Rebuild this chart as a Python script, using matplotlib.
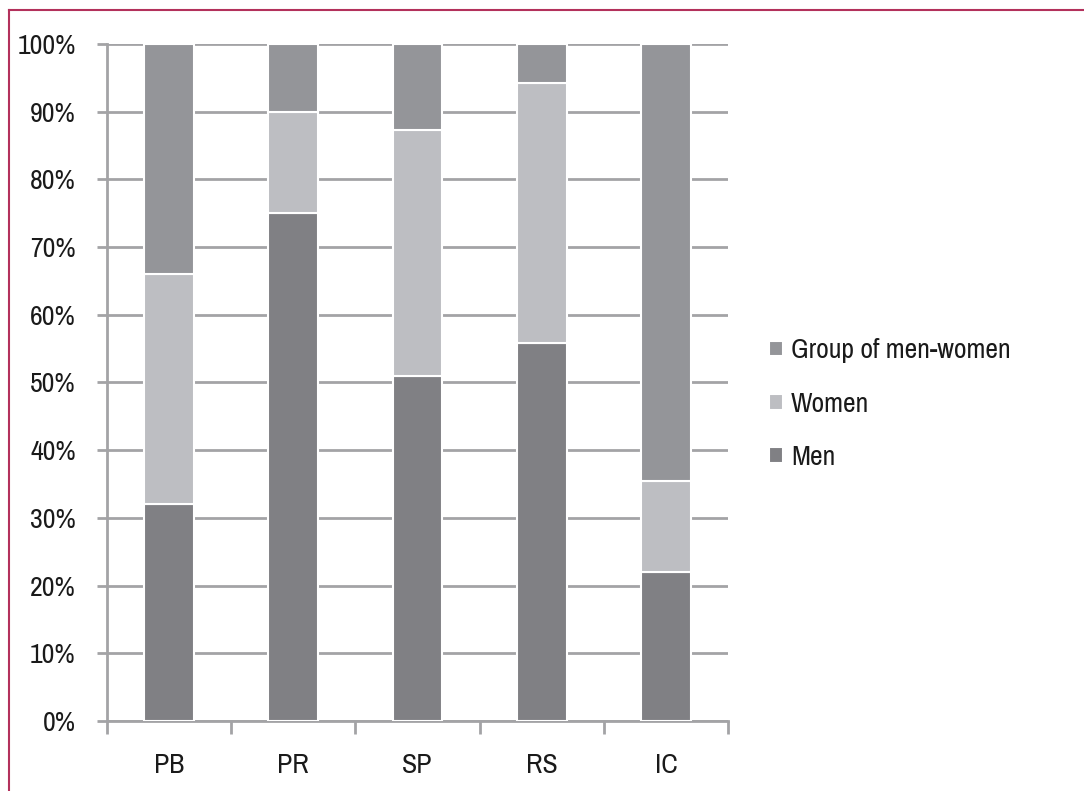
import matplotlib
matplotlib.use("Agg")
import matplotlib.pyplot as plt
from matplotlib import font_manager
from matplotlib.lines import Line2D
import numpy as np

categories = ["PB", "PR", "SP", "RS", "IC"]
men = [32.0, 75.0, 51.0, 55.8, 22.0]
women = [34.0, 15.0, 36.3, 38.4, 13.5]
group = [34.0, 10.0, 12.7, 5.8, 64.5]
yticks = [0, 10, 20, 30, 40, 50, 60, 70, 80, 90, 100]

# pick a narrow/condensed font if any is installed
fp = None
cands = []
for f in font_manager.fontManager.ttflist:
    if f.style != "normal" or f.weight not in (400, "normal", "regular"):
        continue
    low = f.fname.lower()
    if "narrow" in low or "narrow" in f.name.lower():
        cands.append((0, f.fname))
    elif ("condensed" in low or f.stretch == "condensed") and "bold" not in low and "oblique" not in low:
        if "sans" in low and "mono" not in low:
            cands.append((1, f.fname))
cands.sort()
if cands:
    fp = font_manager.FontProperties(fname=cands[0][1])
else:
    fp = font_manager.FontProperties(family="Liberation Sans")
is_narrow = bool(cands) and cands[0][0] == 0
fs = 20 if is_narrow else 18

def F(size):
    p = fp.copy()
    p.set_size(size)
    return p

c_men = "#808084"
c_women = "#bdbec2"
c_group = "#949599"
grid_c = "#a3a3a6"
txt_c = "#1a1a1a"

fig = plt.figure(figsize=(10.84, 7.91), dpi=100)
ax = fig.add_axes([0.0987, 0.0885, 0.573, 0.856])

x = np.arange(len(categories))
w = 0.4
bottoms = np.zeros(len(categories))
for vals, col, lab in [(men, c_men, "Men"), (women, c_women, "Women"), (group, c_group, "Group of men-women")]:
    ax.bar(x, vals, w, bottom=bottoms, color=col, edgecolor="white", linewidth=1.5, label=lab, zorder=3)
    bottoms += np.array(vals)

ax.set_xlim(-0.5, len(categories) - 0.5)
ax.set_ylim(0, 100)
ax.set_yticks(yticks)
ax.set_yticklabels([f"{v}%" for v in yticks], fontproperties=F(fs), color=txt_c)
ax.yaxis.grid(True, color=grid_c, linewidth=2, zorder=0)
ax.set_axisbelow(True)
ax.tick_params(axis='y', length=7, width=2, color=grid_c, pad=15.5)

ax.set_xticks(np.arange(-0.5, len(categories), 1.0))
ax.set_xticklabels([])
ax.set_xticks(x, minor=True)
ax.set_xticklabels(categories, minor=True, fontproperties=F(fs), color=txt_c)
ax.tick_params(axis='x', which='major', length=9, width=2, color=grid_c)
ax.tick_params(axis='x', which='minor', length=0, pad=23)

for s in ["top", "right"]:
    ax.spines[s].set_visible(False)
for s in ["left", "bottom"]:
    ax.spines[s].set_color(grid_c)
    ax.spines[s].set_linewidth(2)

handles, labels = ax.get_legend_handles_labels()
leg = fig.legend(handles[::-1], labels[::-1], loc="center left", bbox_to_anchor=(0.686, 0.489),
                 frameon=False, prop=F(fs), handlelength=0.5, handleheight=0.5,
                 handletextpad=0.3, labelspacing=1.02)
for t in leg.get_texts():
    t.set_color(txt_c)

border = "#b3315c"
fig.add_artist(Line2D([0.0083, 1.0], [0.9875, 0.9875], transform=fig.transFigure, color=border, linewidth=1.5))
fig.add_artist(Line2D([0.0083, 0.0083], [0.0, 0.9875], transform=fig.transFigure, color=border, linewidth=1.5))

fig.savefig("out.png", dpi=100, facecolor="white")
